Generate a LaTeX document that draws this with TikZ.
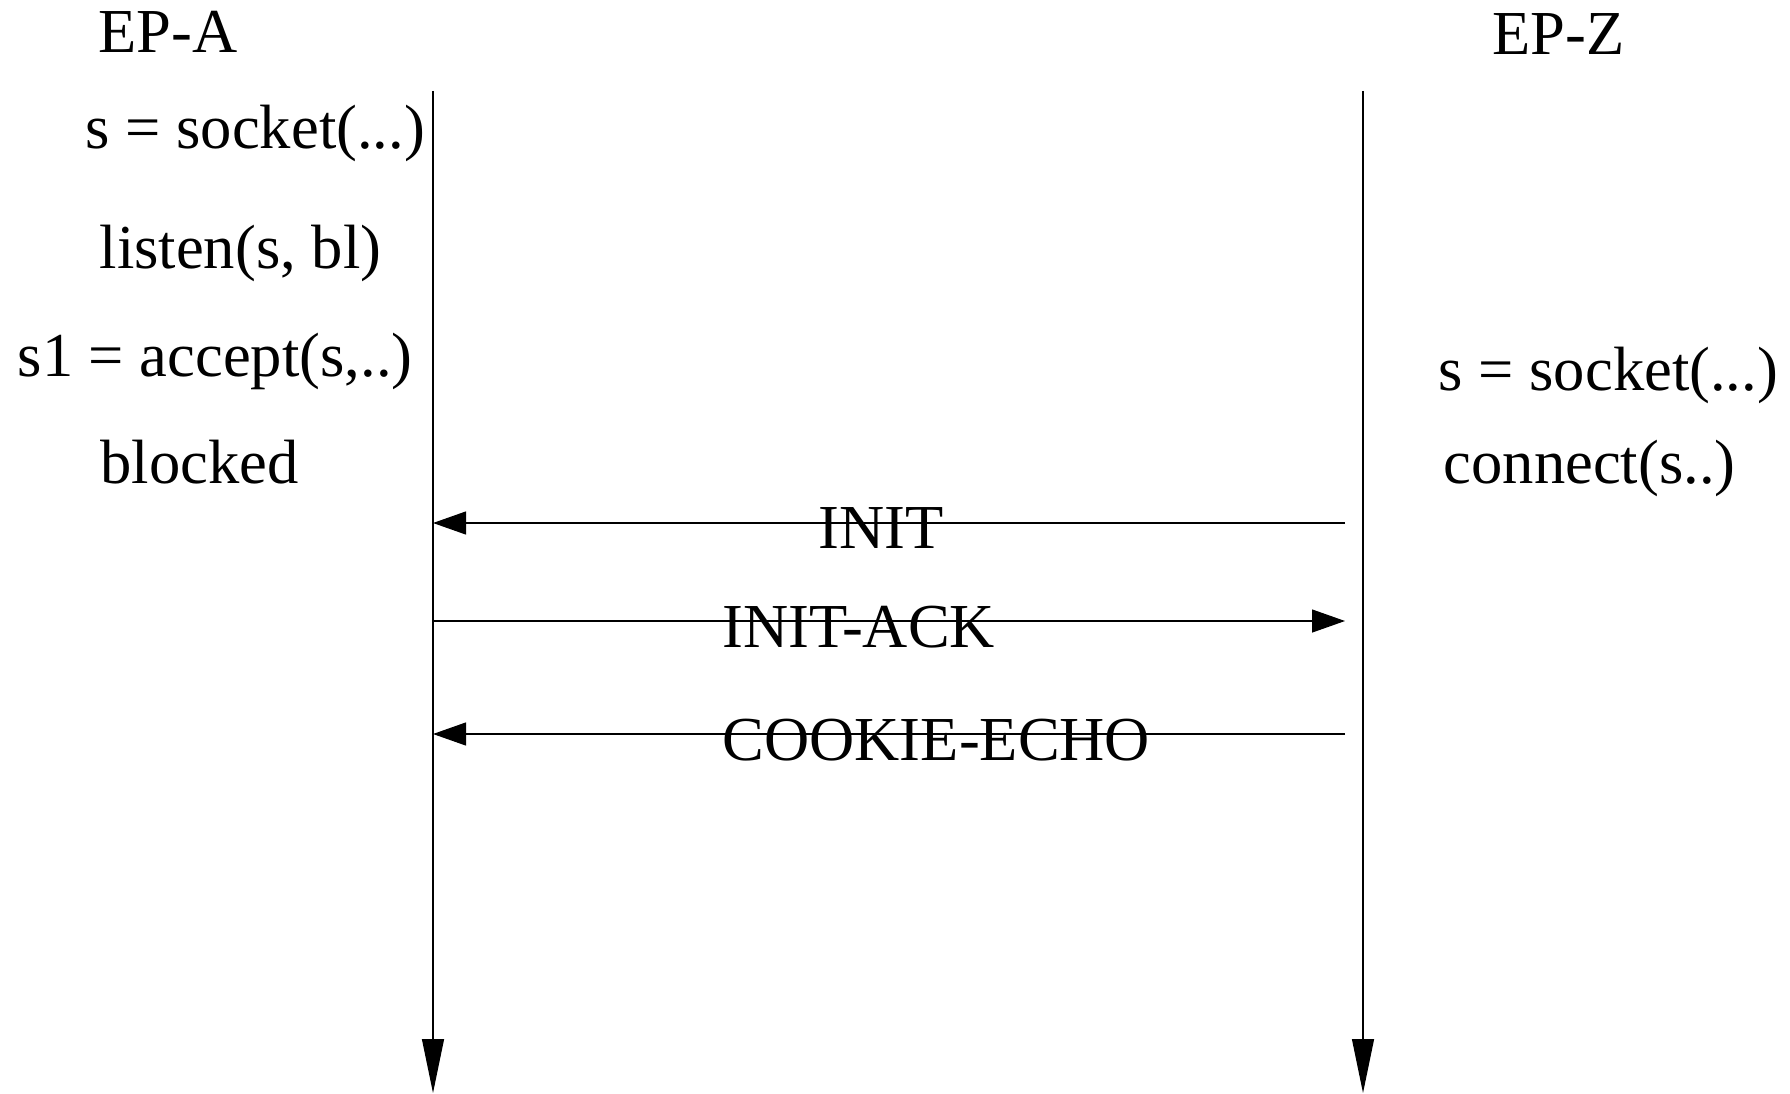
\documentclass[tikz,border=0pt]{standalone}
\usepackage{fontspec}
\setmainfont{Liberation Serif}
\usetikzlibrary{arrows.meta}

\begin{document}
\begin{tikzpicture}[
  txt/.style={anchor=base west, inner sep=0pt, font=\fontsize{17.8}{22}\selectfont},
  life/.style={line width=0.35pt, -{Triangle[length=5.4mm,width=2.2mm]}},
  msg/.style={line width=0.35pt, -{Triangle[length=3.3mm,width=2.3mm]}}]
  \useasboundingbox (0,0) rectangle (17.9,10.93);
  % endpoints
  \node[txt] (epa) at (0.98,10.40) {EP-A};
  \node[txt] (epz) at (14.92,10.38) {EP-Z};
  % lifelines
  \coordinate (atop) at (4.33,10.02);
  \coordinate (abot) at (4.33,0);
  \coordinate (ztop) at (13.63,10.02);
  \coordinate (zbot) at (13.63,0);
  \draw[life] (atop) -- (abot);
  \draw[life] (ztop) -- (zbot);
  % calls on EP-A
  \node[txt] (socka) at (0.85,9.45) {s = socket(...)};
  \node[txt] (listen) at (0.99,8.25) {listen(s, bl)};
  \node[txt] (accept) at (0.17,7.17) {s1 = accept(s,..)};
  \node[txt] (blocked) at (1.00,6.10) {blocked};
  % calls on EP-Z
  \node[txt] (sockz) at (14.38,7.03) {s = socket(...)};
  \node[txt] (connect) at (14.43,6.10) {connect(s..)};
  % handshake chunks
  \coordinate (a1) at (4.33,5.70); \coordinate (z1) at (13.45,5.70);
  \coordinate (a2) at (4.33,4.72); \coordinate (z2) at (13.45,4.72);
  \coordinate (a3) at (4.33,3.59); \coordinate (z3) at (13.45,3.59);
  \draw[msg] (z1) -- (a1);
  \draw[msg] (a2) -- (z2);
  \draw[msg] (z3) -- (a3);
  \node[txt] (init) at (8.18,5.45) {INIT};
  \node[txt] (initack) at (7.22,4.46) {INIT-ACK};
  \node[txt] (cookie) at (7.22,3.33) {COOKIE-ECHO};
\end{tikzpicture}
\end{document}
